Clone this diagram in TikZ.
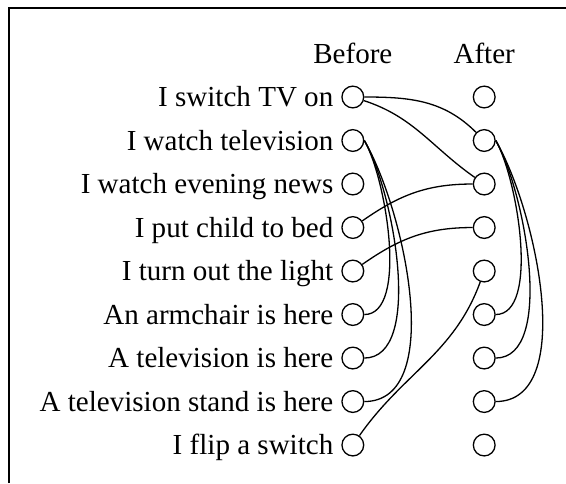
\documentclass[tikz,border=0pt]{standalone}
\usepackage{fontspec}
\setmainfont{Liberation Serif}
\usetikzlibrary{positioning}
\tikzset{
  state/.style={draw, circle, minimum size=0.5cm, inner sep=0pt, line width=0.85pt},
  event/.style={font=\fontsize{19}{23}\selectfont, text height=12.6pt, text depth=0pt},
  link/.style={line width=0.85pt}
}
\begin{document}
\begin{tikzpicture}
\useasboundingbox (0,-0.873) rectangle (13.01,10.23);
\draw[line width=1.6pt] (0.207,-0.873) -- (0.207,10.046) -- (13.01,10.046);
% one row of states per event
\foreach \txt [count=\i] in {I switch TV on, I watch television, I watch evening news,
    I put child to bed, I turn out the light, An armchair is here, A television is here,
    A television stand is here, I flip a switch} {
  \node[state] (b\i) at (8.11,9-\i) {};
  \node[state] (a\i) at (11.13,9-\i) {};
  \node[event, left=0.06cm of b\i] (l\i) {\txt};
}
\node[event] (before) at (8.11,9) {Before};
\node[event] (after) at (11.13,9) {After};
\draw[link] (b1.east) to[out=0,in=135] (a2);
\draw[link] (b1) to[out=-18,in=145] (a3);
\draw[link] (b4) to[out=35,in=180] (a3);
\draw[link] (b5) to[out=35,in=180] (a4);
\draw[link] (b9) to[out=55,in=-110] (a5);
\foreach \j/\l in {6/0.65,7/0.7,8/0.8} {
  \draw[link] (b2.east) to[out=-60,in=0,looseness=\l] (b\j);
  \draw[link] (a2.east) to[out=-60,in=0,looseness=\l] (a\j);
}
\end{tikzpicture}
\end{document}
